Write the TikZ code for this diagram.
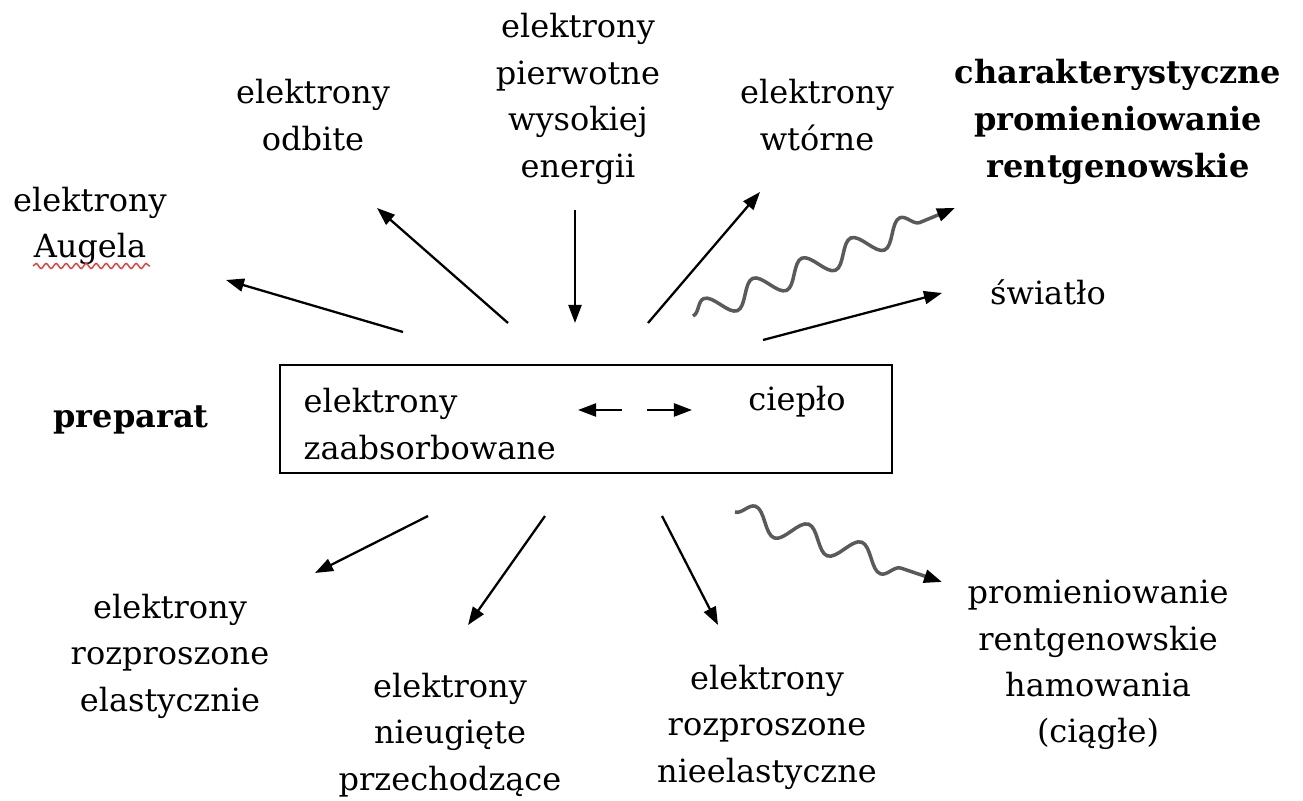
\documentclass[tikz,border=0pt]{standalone}
\usepackage{fontspec}
\setmainfont{DejaVu Serif}
\usepackage{xcolor}
\usetikzlibrary{arrows.meta,decorations.pathmorphing}
\definecolor{waveGray}{HTML}{5A5A5A}
\definecolor{spellRed}{HTML}{E53935}

\begin{document}
\begin{tikzpicture}[x=0.01cm,y=-0.01cm,
  lbl/.style={align=center,font=\fontsize{9.1}{13.2}\selectfont,inner sep=0pt},
  bold/.style={lbl,font=\fontsize{9.1}{13.4}\selectfont\bfseries},
  beam/.style={-{Triangle[length=1.8mm,width=1.3mm]},line width=0.65pt},
  wave/.style={draw=waveGray,line width=1pt,-{Triangle[length=1.8mm,width=1.3mm,color=black]},
    decorate,decoration={snake,amplitude=1.2mm,segment length=5.3mm,post length=2.2mm}}]
  \useasboundingbox (0,0) rectangle (1303,801);
  % specimen box in the middle
  \node[draw,line width=0.5pt,minimum width=6.12cm,minimum height=1.08cm,inner sep=0pt] (box) at (586,419) {};
  \node[lbl,align=left,anchor=west] (abs) at (303,424) {elektrony\\zaabsorbowane};
  \node[lbl] (heat) at (797,402) {ciepło};
  \node[bold] (prep) at (131,420) {preparat};
  % products above the specimen
  \node[lbl] (auger) at (90,226) {elektrony\\Augela};
  \node[lbl] (back) at (313,115) {elektrony\\odbite};
  \node[lbl] (prim) at (578,99) {elektrony\\pierwotne\\wysokiej\\energii};
  \node[lbl] (sec) at (817,115) {elektrony\\wtórne};
  \node[bold] (char) at (1118,122) {charakterystyczne\\promieniowanie\\rentgenowskie};
  \node[lbl] (light) at (1048,292) {światło};
  % products below the specimen
  \node[lbl] (elast) at (170,656) {elektrony\\rozproszone\\elastycznie};
  \node[lbl] (trans) at (450,735) {elektrony\\nieugięte\\przechodzące};
  \node[lbl] (inel) at (767,727) {elektrony\\rozproszone\\nieelastyczne};
  \node[lbl] (brems) at (1098,665) {promieniowanie\\rentgenowskie\\hamowania\\(ciągłe)};
  % arrow end points
  \coordinate (augS) at (403,332);  \coordinate (augE) at (226,280);
  \coordinate (backS) at (508,323); \coordinate (backE) at (377,208);
  \coordinate (primS) at (575,210); \coordinate (primE) at (575,323);
  \coordinate (secS) at (648,323);  \coordinate (secE) at (760,192);
  \coordinate (ligS) at (763,340);  \coordinate (ligE) at (942,293);
  \coordinate (elS) at (428,516);   \coordinate (elE) at (315,573);
  \coordinate (trS) at (545,516);   \coordinate (trE) at (468,625);
  \coordinate (inS) at (662,516);   \coordinate (inE) at (718,625);
  \coordinate (hL1) at (622,410);   \coordinate (hL2) at (578,410);
  \coordinate (hR1) at (647,410);   \coordinate (hR2) at (692,410);
  \coordinate (chS) at (693,316);   \coordinate (chE) at (955,208);
  \coordinate (brS) at (735,512);   \coordinate (brE) at (942,582);
  \foreach \s/\e in {augS/augE,backS/backE,primS/primE,secS/secE,ligS/ligE,
                     elS/elE,trS/trE,inS/inE,hL1/hL2,hR1/hR2}
    \draw[beam] (\s) -- (\e);
  % x-ray photons
  \draw[wave] (chS) -- (chE);
  \draw[wave,decoration={segment length=5.6mm}] (brS) -- (brE);
  % spell-check underline
  \coordinate (sqA) at (33,266); \coordinate (sqB) at (150,266);
  \draw[spellRed,line width=0.4pt,decorate,decoration={snake,amplitude=0.25mm,segment length=1mm}] (sqA) -- (sqB);
\end{tikzpicture}
\end{document}
